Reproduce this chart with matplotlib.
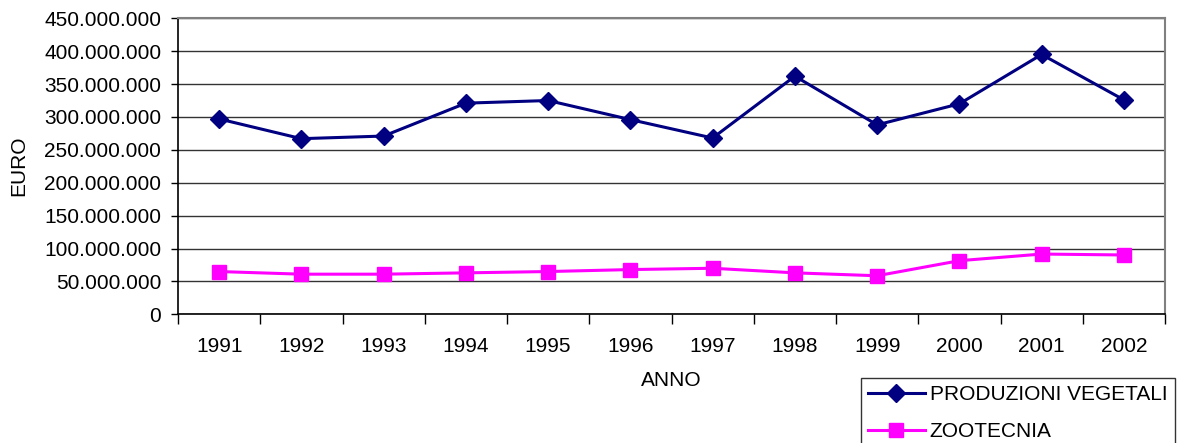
import numpy as np
import matplotlib
matplotlib.use("Agg")
import matplotlib.pyplot as plt
from matplotlib.ticker import FuncFormatter, FixedLocator

plt.rcParams["font.family"] = ["Liberation Sans", "DejaVu Sans"]

years = ["1991", "1992", "1993", "1994", "1995", "1996",
         "1997", "1998", "1999", "2000", "2001", "2002"]
vegetali = [297e6, 267e6, 271e6, 321e6, 325e6, 296e6,
            268e6, 362e6, 288e6, 320e6, 395e6, 326e6]
zootecnia = [65e6, 61e6, 61e6, 63e6, 65e6, 68e6,
             70e6, 63e6, 58.6e6, 81.5e6, 91.6e6, 90.2e6]

FS = 15


def euro_fmt(v, pos):
    return f"{int(round(v)):,}".replace(",", ".")


def main():
    fig = plt.figure(figsize=(11.82, 4.43), dpi=100)
    ax = fig.add_axes([178 / 1182, 1 - 314.3 / 443,
                       (1165 - 178) / 1182, (314.3 - 18.3) / 443])

    x = np.arange(len(years))
    ax.plot(x, vegetali, color="#000080", lw=2.2, marker="D",
            markersize=9, label="PRODUZIONI VEGETALI", zorder=3)
    ax.plot(x, zootecnia, color="#FF00FF", lw=2.2, marker="s",
            markersize=10, label="ZOOTECNIA", zorder=3)

    ax.set_xlim(-0.5, len(years) - 0.5)
    ax.set_ylim(0, 450e6)
    ax.set_yticks(np.arange(0, 450e6 + 1, 50e6))
    ax.yaxis.set_major_formatter(FuncFormatter(euro_fmt))
    ax.yaxis.grid(True, color="#333333", lw=1.0)
    ax.set_axisbelow(True)

    # ticks between categories, labels at category centres
    ax.xaxis.set_major_locator(FixedLocator(np.arange(len(years) + 1) - 0.5))
    ax.xaxis.set_major_formatter(FuncFormatter(lambda v, p: ""))
    ax.set_xticks(x, years, minor=True)
    ax.tick_params(axis="x", which="major", direction="out", length=7,
                   width=1, color="black")
    ax.tick_params(axis="x", which="minor", length=0, pad=16, labelsize=FS)
    ax.tick_params(axis="y", direction="out", length=5, width=1,
                   labelsize=FS, pad=7)

    for side in ["top", "right"]:
        ax.spines[side].set_color("#808080")
        ax.spines[side].set_linewidth(1.5)
    for side in ["left", "bottom"]:
        ax.spines[side].set_color("black")
        ax.spines[side].set_linewidth(1.2)

    fig.text(19 / 1182, 1 - 166 / 443, "EURO", fontsize=FS, rotation=90,
             ha="center", va="center")
    fig.text(671 / 1182, 1 - 381 / 443, "ANNO", fontsize=FS,
             ha="center", va="center")

    leg = fig.legend(loc="upper left", bbox_to_anchor=(861 / 1182, 1 - 378 / 443),
                     fontsize=FS, frameon=True, fancybox=False,
                     edgecolor="black", borderpad=0.35, handlelength=2.7,
                     handletextpad=0.25, labelspacing=0.85, borderaxespad=0)
    leg.get_frame().set_linewidth(1.0)

    fig.savefig("out.png", dpi=100)


if __name__ == "__main__":
    main()
